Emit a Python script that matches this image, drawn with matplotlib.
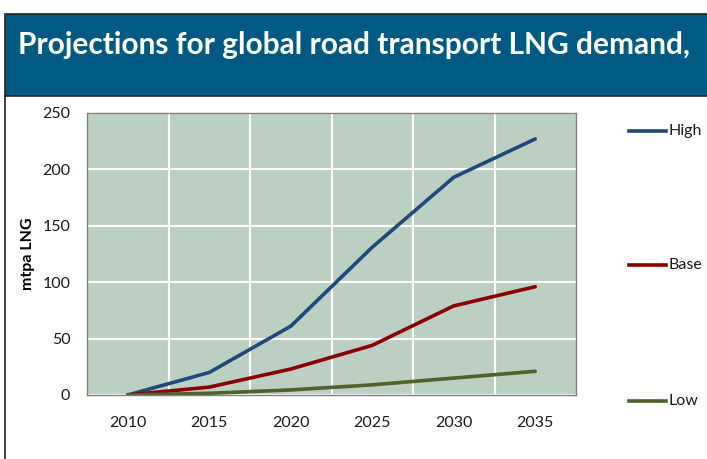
import matplotlib.pyplot as plt
from matplotlib.patches import Rectangle
from matplotlib.lines import Line2D

years = ['2010', '2015', '2020', '2025', '2030', '2035']
high = [0, 20, 61, 131, 193, 227]
base = [0, 7, 23, 44, 79, 96]
low = [0, 1.5, 4.5, 9, 15, 21]
series_names = ['High', 'Base', 'Low']
series_colors = ['#1F497D', '#8B0000', '#4F6228']

plt.rcParams['font.family'] = ['Lato', 'DejaVu Sans']

W, H = 707, 459
fig = plt.figure(figsize=(W / 100, H / 100), dpi=100)

# title banner
fig.patches.append(Rectangle((5 / W, 1 - 96 / H), 1, 82 / H, transform=fig.transFigure,
                             facecolor='#005A84', edgecolor='#222222', linewidth=1.2))
fig.add_artist(Line2D([5 / W, 5 / W], [0, 1 - 96 / H], transform=fig.transFigure,
                      color='#222222', linewidth=1.2))
fig.text(18 / W, 1 - 45 / H, 'Projections for global road transport LNG demand,',
         color='white', fontsize=21.5, fontweight='bold', va='center', ha='left')

ax = fig.add_axes([87 / W, 1 - 395 / H, (576 - 87) / W, (395 - 113) / H])
ax.set_facecolor('#BCCFC3')
x = range(len(years))
for vals, name, col in zip([high, base, low], series_names, series_colors):
    ax.plot(x, vals, color=col, linewidth=2.6, label=name, solid_capstyle='round')

ax.set_xlim(-0.5, len(years) - 0.5)
ax.set_ylim(0, 250)
ax.set_yticks(range(0, 251, 50))
ax.set_xticks(list(x))
ax.set_xticklabels(years)
ax.set_xticks([i + 0.5 for i in range(len(years) - 1)], minor=True)
ax.grid(True, which='major', axis='y', color='white', linewidth=1.5)
ax.grid(True, which='minor', axis='x', color='white', linewidth=1.5)
ax.tick_params(which='both', length=0)
ax.tick_params(axis='both', labelsize=11.5, labelcolor='#1a1a1a')
ax.tick_params(axis='x', pad=15)
ax.tick_params(axis='y', pad=12)
for s in ax.spines.values():
    s.set_color('#808080')
    s.set_linewidth(1)
ax.set_axisbelow(True)
ax.set_ylabel('mtpa LNG', fontsize=11.5, fontweight='bold', labelpad=5)

# legend entries spread down the right side
for name, col, yp in zip(series_names, series_colors, [131, 265, 401]):
    fy = 1 - yp / H
    fig.add_artist(Line2D([629 / W, 666 / W], [fy, fy], transform=fig.transFigure,
                          color=col, linewidth=2.6))
    fig.text(668 / W, fy, name, fontsize=11.5, color='#1a1a1a', va='center', ha='left')

fig.savefig('out.png', dpi=100)
